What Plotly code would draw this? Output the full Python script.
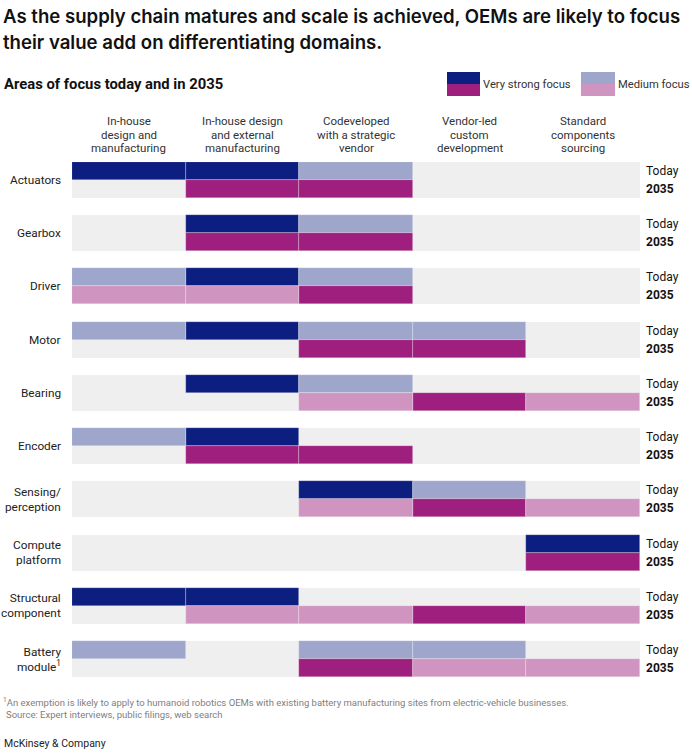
import plotly.graph_objects as go

# ---------------- data ----------------
components = ["Actuators", "Gearbox", "Driver", "Motor", "Bearing", "Encoder",
              "Sensing/<br>perception", "Compute<br>platform",
              "Structural<br>component", "Battery<br>module<sup>1</sup>"]
approaches = [
    ["In-house", "design and", "manufacturing"],
    ["In-house design", "and external", "manufacturing"],
    ["Codeveloped", "with a strategic", "vendor"],
    ["Vendor-led", "custom", "development"],
    ["Standard", "components", "sourcing"],
]
# 0 = no focus, 1 = medium focus, 2 = very strong focus
today = [
    [2, 2, 1, 0, 0],
    [0, 2, 1, 0, 0],
    [1, 2, 1, 0, 0],
    [1, 2, 1, 1, 0],
    [0, 2, 1, 0, 0],
    [1, 2, 0, 0, 0],
    [0, 0, 2, 1, 0],
    [0, 0, 0, 0, 2],
    [2, 2, 0, 0, 0],
    [1, 0, 1, 1, 0],
]
y2035 = [
    [0, 2, 2, 0, 0],
    [0, 2, 2, 0, 0],
    [1, 1, 2, 0, 0],
    [0, 0, 2, 2, 0],
    [0, 0, 1, 2, 1],
    [0, 2, 2, 0, 0],
    [0, 0, 1, 2, 1],
    [0, 0, 0, 0, 2],
    [0, 1, 1, 2, 1],
    [0, 0, 2, 1, 1],
]
period_labels = ["Today", "2035"]
legend_labels = ["Very strong focus", "Medium focus"]

# ---------------- style ----------------
GRAY = "#efefef"
COLORS = {
    ("Today", 2): "#0c1f80",
    ("Today", 1): "#9ea6cc",
    ("2035", 2): "#9e1f7e",
    ("2035", 1): "#cf95c0",
}
PITCH = 2.956  # group pitch in row units

W, H = 692, 754
L, R, T, B = 72, 640, 162, 677


def px(x):
    return (x - L) / (R - L)


def py(y):
    return (B - y) / (B - T)


fig = go.Figure()

# background cells
bx, by, bb = [], [], []
for i in range(len(components)):
    for p in range(2):
        for c in range(len(approaches)):
            bx.append(1)
            by.append(i * PITCH + p)
            bb.append(c)
fig.add_trace(go.Bar(orientation="h", x=bx, y=by, base=bb, width=1.0,
                     marker=dict(color=GRAY, line=dict(width=0)),
                     hoverinfo="skip", showlegend=False))

for p, (plab, grid) in enumerate(zip(period_labels, [today, y2035])):
    for lvl in (2, 1):
        xs, ys, bs = [], [], []
        for i, row in enumerate(grid):
            for c, v in enumerate(row):
                if v == lvl:
                    xs.append(1)
                    ys.append(i * PITCH + p)
                    bs.append(c)
        fig.add_trace(go.Bar(orientation="h", x=xs, y=ys, base=bs, width=1.0,
                             marker=dict(color=COLORS[(plab, lvl)],
                                         line=dict(width=0.6, color="rgba(255,255,255,0.45)")),
                             hoverinfo="skip", showlegend=False))

ann = []
FONT = "Roboto"
# row labels
for i, name in enumerate(components):
    ann.append(dict(x=px(63), xref="paper", y=i * PITCH + 0.5, yref="y",
                    text=name, showarrow=False, xanchor="right", yanchor="middle",
                    align="right", font=dict(family=FONT, size=11.8, color="#222")))
    for p, plab in enumerate(period_labels):
        ann.append(dict(x=px(644), xref="paper", y=i * PITCH + p, yref="y",
                        text=("<b>%s</b>" % plab) if p == 1 else plab,
                        showarrow=False, xanchor="left", yanchor="middle",
                        font=dict(family=FONT, size=12, color="#111")))

# column headers
for c, lines in enumerate(approaches):
    for k, line in enumerate(lines):
        ann.append(dict(x=c + 0.5, xref="x", y=py(121 + 13.5 * k), yref="paper",
                        text=line, showarrow=False, xanchor="center", yanchor="middle",
                        font=dict(family=FONT, size=11.5, color="#333")))

# titles
TFONT = "Inter"
ann.append(dict(x=px(1), xref="paper", y=py(16), yref="paper",
                text="As the supply chain matures and scale is achieved, OEMs are likely to focus",
                showarrow=False, xanchor="left", yanchor="middle",
                font=dict(family=TFONT, size=18.6, color="#111", weight=600)))
ann.append(dict(x=px(1), xref="paper", y=py(42), yref="paper",
                text="their value add on differentiating domains.",
                showarrow=False, xanchor="left", yanchor="middle",
                font=dict(family=TFONT, size=18.6, color="#111", weight=600)))
ann.append(dict(x=px(2), xref="paper", y=py(84), yref="paper",
                text="<b>Areas of focus today and in 2035</b>",
                showarrow=False, xanchor="left", yanchor="middle",
                font=dict(family=FONT, size=14.8, color="#111")))

# legend
shapes = []
sw = [(447, 480, "Today", "2035"), (581, 615, "Today", "2035")]
for j, (x0, x1, a, b) in enumerate(sw):
    lvl = 2 if j == 0 else 1
    shapes.append(dict(type="rect", xref="paper", yref="paper", x0=px(x0), x1=px(x1),
                       y0=py(84), y1=py(72), fillcolor=COLORS[(a, lvl)], line=dict(width=0)))
    shapes.append(dict(type="rect", xref="paper", yref="paper", x0=px(x0), x1=px(x1),
                       y0=py(96), y1=py(84), fillcolor=COLORS[(b, lvl)], line=dict(width=0)))
    ann.append(dict(x=px(x1 + 1), xref="paper", y=py(84), yref="paper",
                    text=legend_labels[j], showarrow=False, xanchor="left", yanchor="middle",
                    font=dict(family=FONT, size=11.2, color="#333")))

# footnotes
ann.append(dict(x=px(1), xref="paper", y=py(702), yref="paper",
                text="<sup>1</sup>An exemption is likely to apply to humanoid robotics OEMs with existing battery manufacturing sites from electric-vehicle businesses.",
                showarrow=False, xanchor="left", yanchor="middle",
                font=dict(family=FONT, size=9.5, color="#808080")))
ann.append(dict(x=px(4), xref="paper", y=py(714), yref="paper",
                text="Source: Expert interviews, public filings, web search",
                showarrow=False, xanchor="left", yanchor="middle",
                font=dict(family=FONT, size=9.5, color="#808080")))
ann.append(dict(x=px(2), xref="paper", y=py(743), yref="paper",
                text="McKinsey &amp; Company",
                showarrow=False, xanchor="left", yanchor="middle",
                font=dict(family=FONT, size=10.5, color="#222")))

fig.update_layout(
    width=W, height=H,
    margin=dict(l=L, r=W - R, t=T, b=H - B, pad=0),
    paper_bgcolor="white", plot_bgcolor="white",
    barmode="overlay", bargap=0,
    xaxis=dict(range=[0, len(approaches)], showgrid=False, zeroline=False,
               showticklabels=False, fixedrange=True),
    yaxis=dict(range=[(len(components) - 1) * PITCH + 1.5, -0.5], showgrid=False,
               zeroline=False, showticklabels=False, fixedrange=True),
    annotations=ann, shapes=shapes,
    font=dict(family=FONT),
)

fig.write_html("out.html", config={"displayModeBar": False},
               post_script="document.body.style.margin='0px';document.body.style.overflow='hidden';")
